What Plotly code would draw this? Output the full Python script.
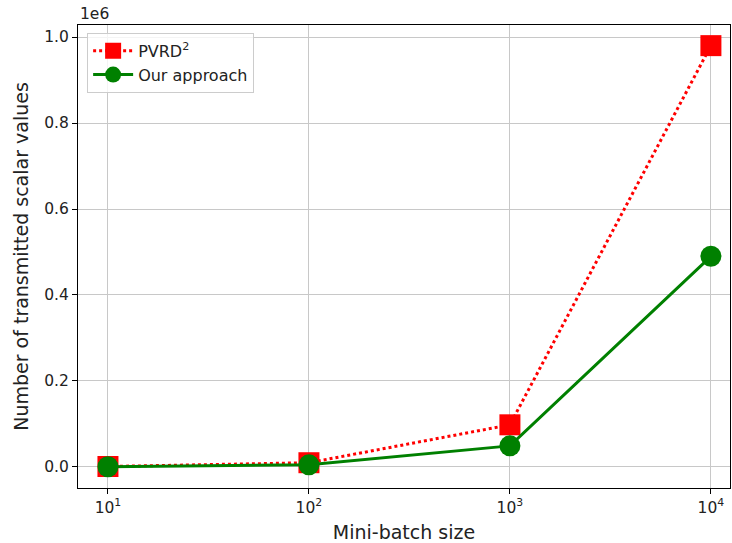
import plotly.graph_objects as go

batch_sizes = [10, 100, 1000, 10000]
pvrd2 = [980, 9800, 98000, 980000]
ours = [490, 4900, 49000, 490000]
y_ticks = [0, 0.2e6, 0.4e6, 0.6e6, 0.8e6, 1.0e6]
y_tick_labels = ["0.0", "0.2", "0.4", "0.6", "0.8", "1.0"]
x_ticks = [10, 100, 1000, 10000]
x_tick_labels = ["10<sup>1</sup>", "10<sup>2</sup>", "10<sup>3</sup>", "10<sup>4</sup>"]

font = "DejaVu Sans"
fig = go.Figure()
fig.add_trace(go.Scatter(
    x=batch_sizes, y=pvrd2, name="PVRD<sup>2</sup>", mode="lines+markers",
    line=dict(color="#ff0000", width=3, dash="dot"),
    marker=dict(symbol="square", size=21, color="#ff0000"),
))
fig.add_trace(go.Scatter(
    x=batch_sizes, y=ours, name="Our approach", mode="lines+markers",
    line=dict(color="#008000", width=3),
    marker=dict(symbol="circle", size=21, color="#008000"),
))

axis_common = dict(
    showline=True, linecolor="black", linewidth=1.2, mirror=True,
    ticks="outside", ticklen=5, tickcolor="black",
    showgrid=True, gridcolor="#c8c8c8", gridwidth=1.2, zeroline=False,
    tickfont=dict(family=font, size=15.5, color="#222"), automargin=False,
)
fig.update_xaxes(type="log", range=[0.851, 4.095], tickvals=x_ticks, ticktext=x_tick_labels,
                 title=dict(text="Mini-batch size", font=dict(family=font, size=19, color="#222"), standoff=10),
                 **axis_common)
fig.update_yaxes(range=[-0.049e6, 1.028e6], tickvals=y_ticks, ticktext=y_tick_labels,
                 title=dict(text="Number of transmitted scalar values", font=dict(family=font, size=19, color="#222"), standoff=10),
                 **axis_common)
fig.add_annotation(text="1e6", xref="paper", yref="paper", x=0, y=1, xanchor="left", yanchor="bottom",
                   showarrow=False, font=dict(family=font, size=15.5, color="#222"), yshift=0)
fig.update_layout(
    width=732, height=543,
    margin=dict(l=78, r=2, t=25, b=55),
    paper_bgcolor="white", plot_bgcolor="white",
    font=dict(family=font, size=15.5, color="#222"),
    showlegend=True,
    legend=dict(x=0.014, y=0.983, xanchor="left", yanchor="top",
                bgcolor="rgba(255,255,255,0.8)", bordercolor="#cccccc", borderwidth=1,
                font=dict(family=font, size=16, color="#222"), itemwidth=40),
)
fig.write_html("out.html", config={"displayModeBar": False},
               post_script="document.body.style.margin='0';document.body.style.overflow='hidden';")
